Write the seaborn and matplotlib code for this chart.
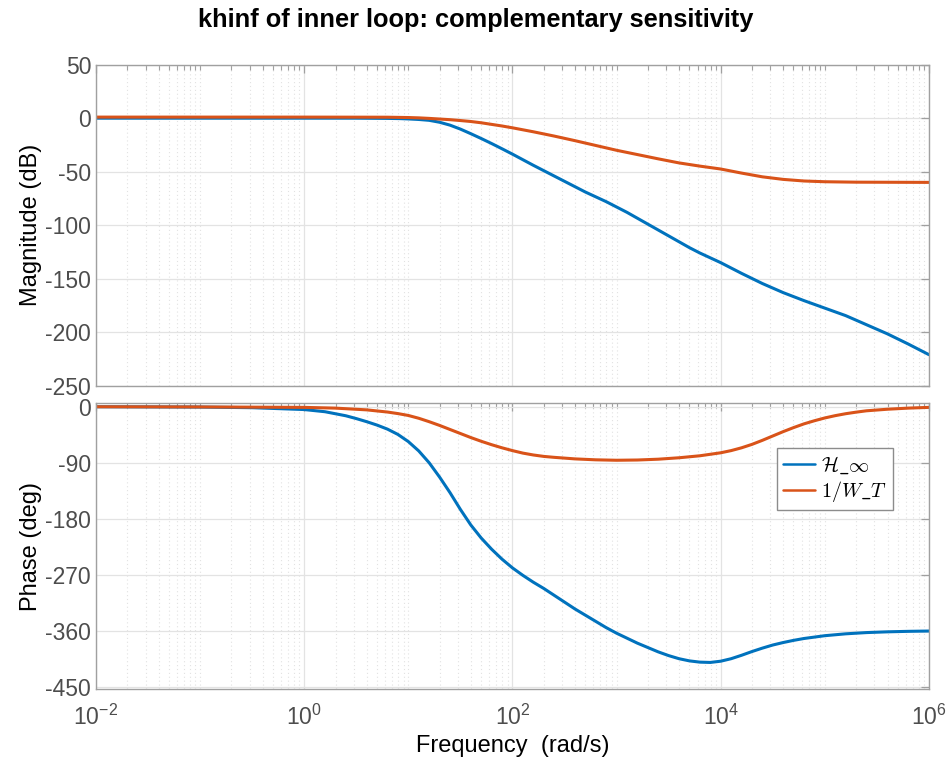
import numpy as np
import pandas as pd
import matplotlib
matplotlib.use("Agg")
import matplotlib.pyplot as plt
from matplotlib.ticker import FixedLocator, LogFormatterSciNotation, NullFormatter
from matplotlib.font_manager import FontProperties
import seaborn as sns

# ---------------- data ----------------
series_names = [r'$\mathcal{H}\_\infty$', r'$1/W\_T$']

# frequencies given as decade exponents (w = 10**exp rad/s)
mag_h_exp = [-2, 0, 0.5, 0.8, 0.92, 1.0, 1.1, 1.2, 1.3, 1.4, 1.5, 1.6, 1.7,
             1.8, 1.9, 2.0, 2.1, 2.2, 2.3, 2.4, 2.5, 2.6, 2.7, 2.8, 2.9, 3.0,
             3.1, 3.2, 3.3, 3.4, 3.5, 3.6, 3.7, 3.8, 3.9, 4.0, 4.2, 4.4, 4.6,
             4.8, 5.0, 5.2, 5.4, 5.6, 5.8, 6.0]
mag_h_db = [0, 0, 0, -0.2, -0.4, -0.7, -1.2, -2.0, -3.8, -6.5, -10.2, -14.5,
            -19, -23.7, -28.6, -33.6, -38.8, -44, -49, -54, -59, -64, -69,
            -73.5, -78, -83, -88, -93.5, -99, -104.5, -110, -115.5, -121,
            -126, -130.5, -135, -145, -154.5, -163, -170.5, -177.5, -184.5,
            -193, -201.5, -211, -221]

mag_w_exp = [-2, 0, 0.8, 1.0, 1.1, 1.2, 1.3, 1.4, 1.5, 1.6, 1.7, 1.8, 1.9,
             2.0, 2.2, 2.4, 2.6, 2.8, 3.0, 3.2, 3.4, 3.6, 3.8, 4.0, 4.2, 4.4,
             4.6, 4.8, 5.0, 5.3, 6.0]
mag_w_db = [1, 1, 0.9, 0.6, 0.3, -0.2, -0.8, -1.4, -2.2, -3.1, -4.3, -5.8,
            -7.3, -9, -12.7, -16.7, -21, -25.5, -30, -34, -38, -41.8, -44.8,
            -47.5, -51.3, -54.8, -57.2, -58.7, -59.4, -59.8, -60]

ph_h_exp = [-2, -1, -0.5, 0, 0.2, 0.4, 0.5, 0.6, 0.7, 0.8, 0.9, 1.0, 1.1, 1.2,
            1.3, 1.4, 1.5, 1.6, 1.7, 1.8, 1.9, 2.0, 2.1, 2.2, 2.3, 2.4, 2.5,
            2.6, 2.7, 2.8, 2.9, 3.0, 3.1, 3.2, 3.3, 3.4, 3.5, 3.6, 3.7, 3.8,
            3.9, 4.0, 4.1, 4.2, 4.3, 4.4, 4.5, 4.6, 4.7, 4.8, 5.0, 5.2, 5.4,
            5.6, 5.8, 6.0]
ph_h_deg = [0, -0.5, -1.5, -4.5, -8, -14.5, -19, -24, -29.5, -36, -44.5, -56,
            -71, -90, -113, -138, -165, -190, -211, -229, -245, -259, -271,
            -282, -292, -303, -314, -325, -335, -345, -355, -364, -372, -380,
            -387, -394, -400, -405, -408.5, -410.5, -411, -409, -405, -399.5,
            -393.5, -388, -383, -379, -375.5, -372.5, -368, -365, -363,
            -361.8, -361, -360.5]

ph_w_exp = [-2, -1, 0, 0.3, 0.6, 0.8, 0.9, 1.0, 1.1, 1.2, 1.3, 1.4, 1.5, 1.6,
            1.7, 1.8, 1.9, 2.0, 2.1, 2.2, 2.3, 2.4, 2.6, 2.8, 3.0, 3.2, 3.4,
            3.6, 3.8, 4.0, 4.1, 4.2, 4.3, 4.4, 4.5, 4.6, 4.7, 4.8, 4.9, 5.0,
            5.1, 5.2, 5.3, 5.4, 5.6, 5.8, 6.0]
ph_w_deg = [0, -0.3, -1, -2.2, -5, -8.5, -11, -14, -18.5, -24, -30,
            -36.5, -43, -49.5, -55.5, -61, -66, -70.5, -74.5, -77.5, -79.8,
            -81.3, -83.8, -85.3, -86, -85.6, -84.3, -82, -78.8, -74, -70.5,
            -66, -60.5, -54, -47, -40, -33.5, -27.5, -22.5, -18, -14.3,
            -11.2, -8.7, -6.5, -4, -2.2, -1]

# ---------------- style ----------------
sns.set_theme(style="white")
plt.rcParams['font.family'] = ['Liberation Sans', 'DejaVu Sans']
plt.rcParams['mathtext.fontset'] = 'custom'
plt.rcParams['mathtext.rm'] = 'Liberation Sans'
plt.rcParams['mathtext.it'] = 'Liberation Sans:italic'
plt.rcParams['mathtext.bf'] = 'Liberation Sans:bold'
plt.rcParams['axes.unicode_minus'] = False
plt.rcParams['text.color'] = 'black'
plt.rcParams['axes.labelcolor'] = 'black'

BLUE = '#0072BD'
ORANGE = '#D95319'
SPINE = '#a0a0a0'
TICKLBL = '#4d4d4d'


def frame(exps, vals, name):
    return pd.DataFrame({'w': np.power(10.0, exps), 'val': vals, 'series': name})


mag_df = pd.concat([frame(mag_h_exp, mag_h_db, series_names[0]),
                    frame(mag_w_exp, mag_w_db, series_names[1])])
ph_df = pd.concat([frame(ph_h_exp, ph_h_deg, series_names[0]),
                   frame(ph_w_exp, ph_w_deg, series_names[1])])

fig = plt.figure(figsize=(9.51, 7.6), dpi=100)
ax1 = fig.add_axes([0.1009, 0.4925, 0.8759, 0.4224])
ax2 = fig.add_axes([0.1009, 0.0930, 0.8759, 0.3763])

for ax, df in ((ax1, mag_df), (ax2, ph_df)):
    sns.lineplot(data=df, x='w', y='val', hue='series', hue_order=series_names,
                 palette=[BLUE, ORANGE], linewidth=2.2, ax=ax, legend=False,
                 estimator=None)

major_x = [1e-2, 1e0, 1e2, 1e4, 1e6]
minor_x = [k * 10.0 ** d for d in range(-2, 6) for k in range(1, 10)
           if not (k == 1 and d % 2 == 0)]

for ax in (ax1, ax2):
    ax.set_xscale('log')
    ax.set_xlim(1e-2, 1e6)
    ax.xaxis.set_major_locator(FixedLocator(major_x))
    ax.xaxis.set_minor_locator(FixedLocator(minor_x))
    ax.xaxis.set_minor_formatter(NullFormatter())
    ax.grid(which='major', color='#e3e3e3', linewidth=0.9, linestyle='-')
    ax.grid(which='minor', axis='x', color='#e2e2e2', linewidth=0.8,
            linestyle=(0, (1, 2.5)))
    ax.set_axisbelow(True)
    for s in ax.spines.values():
        s.set_color(SPINE)
        s.set_linewidth(1.0)
    ax.tick_params(which='both', direction='in', top=True, right=True,
                   color=SPINE, labelcolor=TICKLBL, labelsize=16.5)
    ax.tick_params(which='major', length=6, width=0.9)
    ax.tick_params(which='minor', length=3.5, width=0.8)
    ax.set_xlabel('')

ax1.set_ylim(-250, 50)
ax1.set_yticks([50, 0, -50, -100, -150, -200, -250])
ax1.tick_params(axis='x', labelbottom=False)
ax1.set_ylabel('Magnitude (dB)', fontsize=17, color='black', labelpad=2)

ax2.set_ylim(-454.2, 5.5)
ax2.set_yticks([0, -90, -180, -270, -360, -450])
ax2.xaxis.set_major_formatter(LogFormatterSciNotation())
ax2.tick_params(axis='x', pad=11)
ax2.set_ylabel('Phase (deg)', fontsize=17, color='black', labelpad=2)
ax2.set_xlabel('Frequency  (rad/s)', fontsize=17, color='black', labelpad=4)

leg_font = FontProperties(family='DejaVu Serif', size=14.5, math_fontfamily='cm')
leg = ax2.legend(ax2.lines[:2], series_names, loc='upper left',
                 bbox_to_anchor=(0.8175, 0.8437), borderaxespad=0,
                 prop=leg_font, fancybox=False, framealpha=1,
                 edgecolor='#8c8c8c', handlelength=1.6, handletextpad=0.3,
                 borderpad=0.3, labelspacing=0.15)
leg.get_frame().set_linewidth(1.0)
for ln in leg.get_lines():
    ln.set_linewidth(1.8)

fig.suptitle('khinf of inner loop: complementary sensitivity', fontsize=18.3,
             fontweight='bold', color='black', x=0.5, y=0.974, va='center')

fig.savefig('out.png', dpi=100, facecolor='white')
